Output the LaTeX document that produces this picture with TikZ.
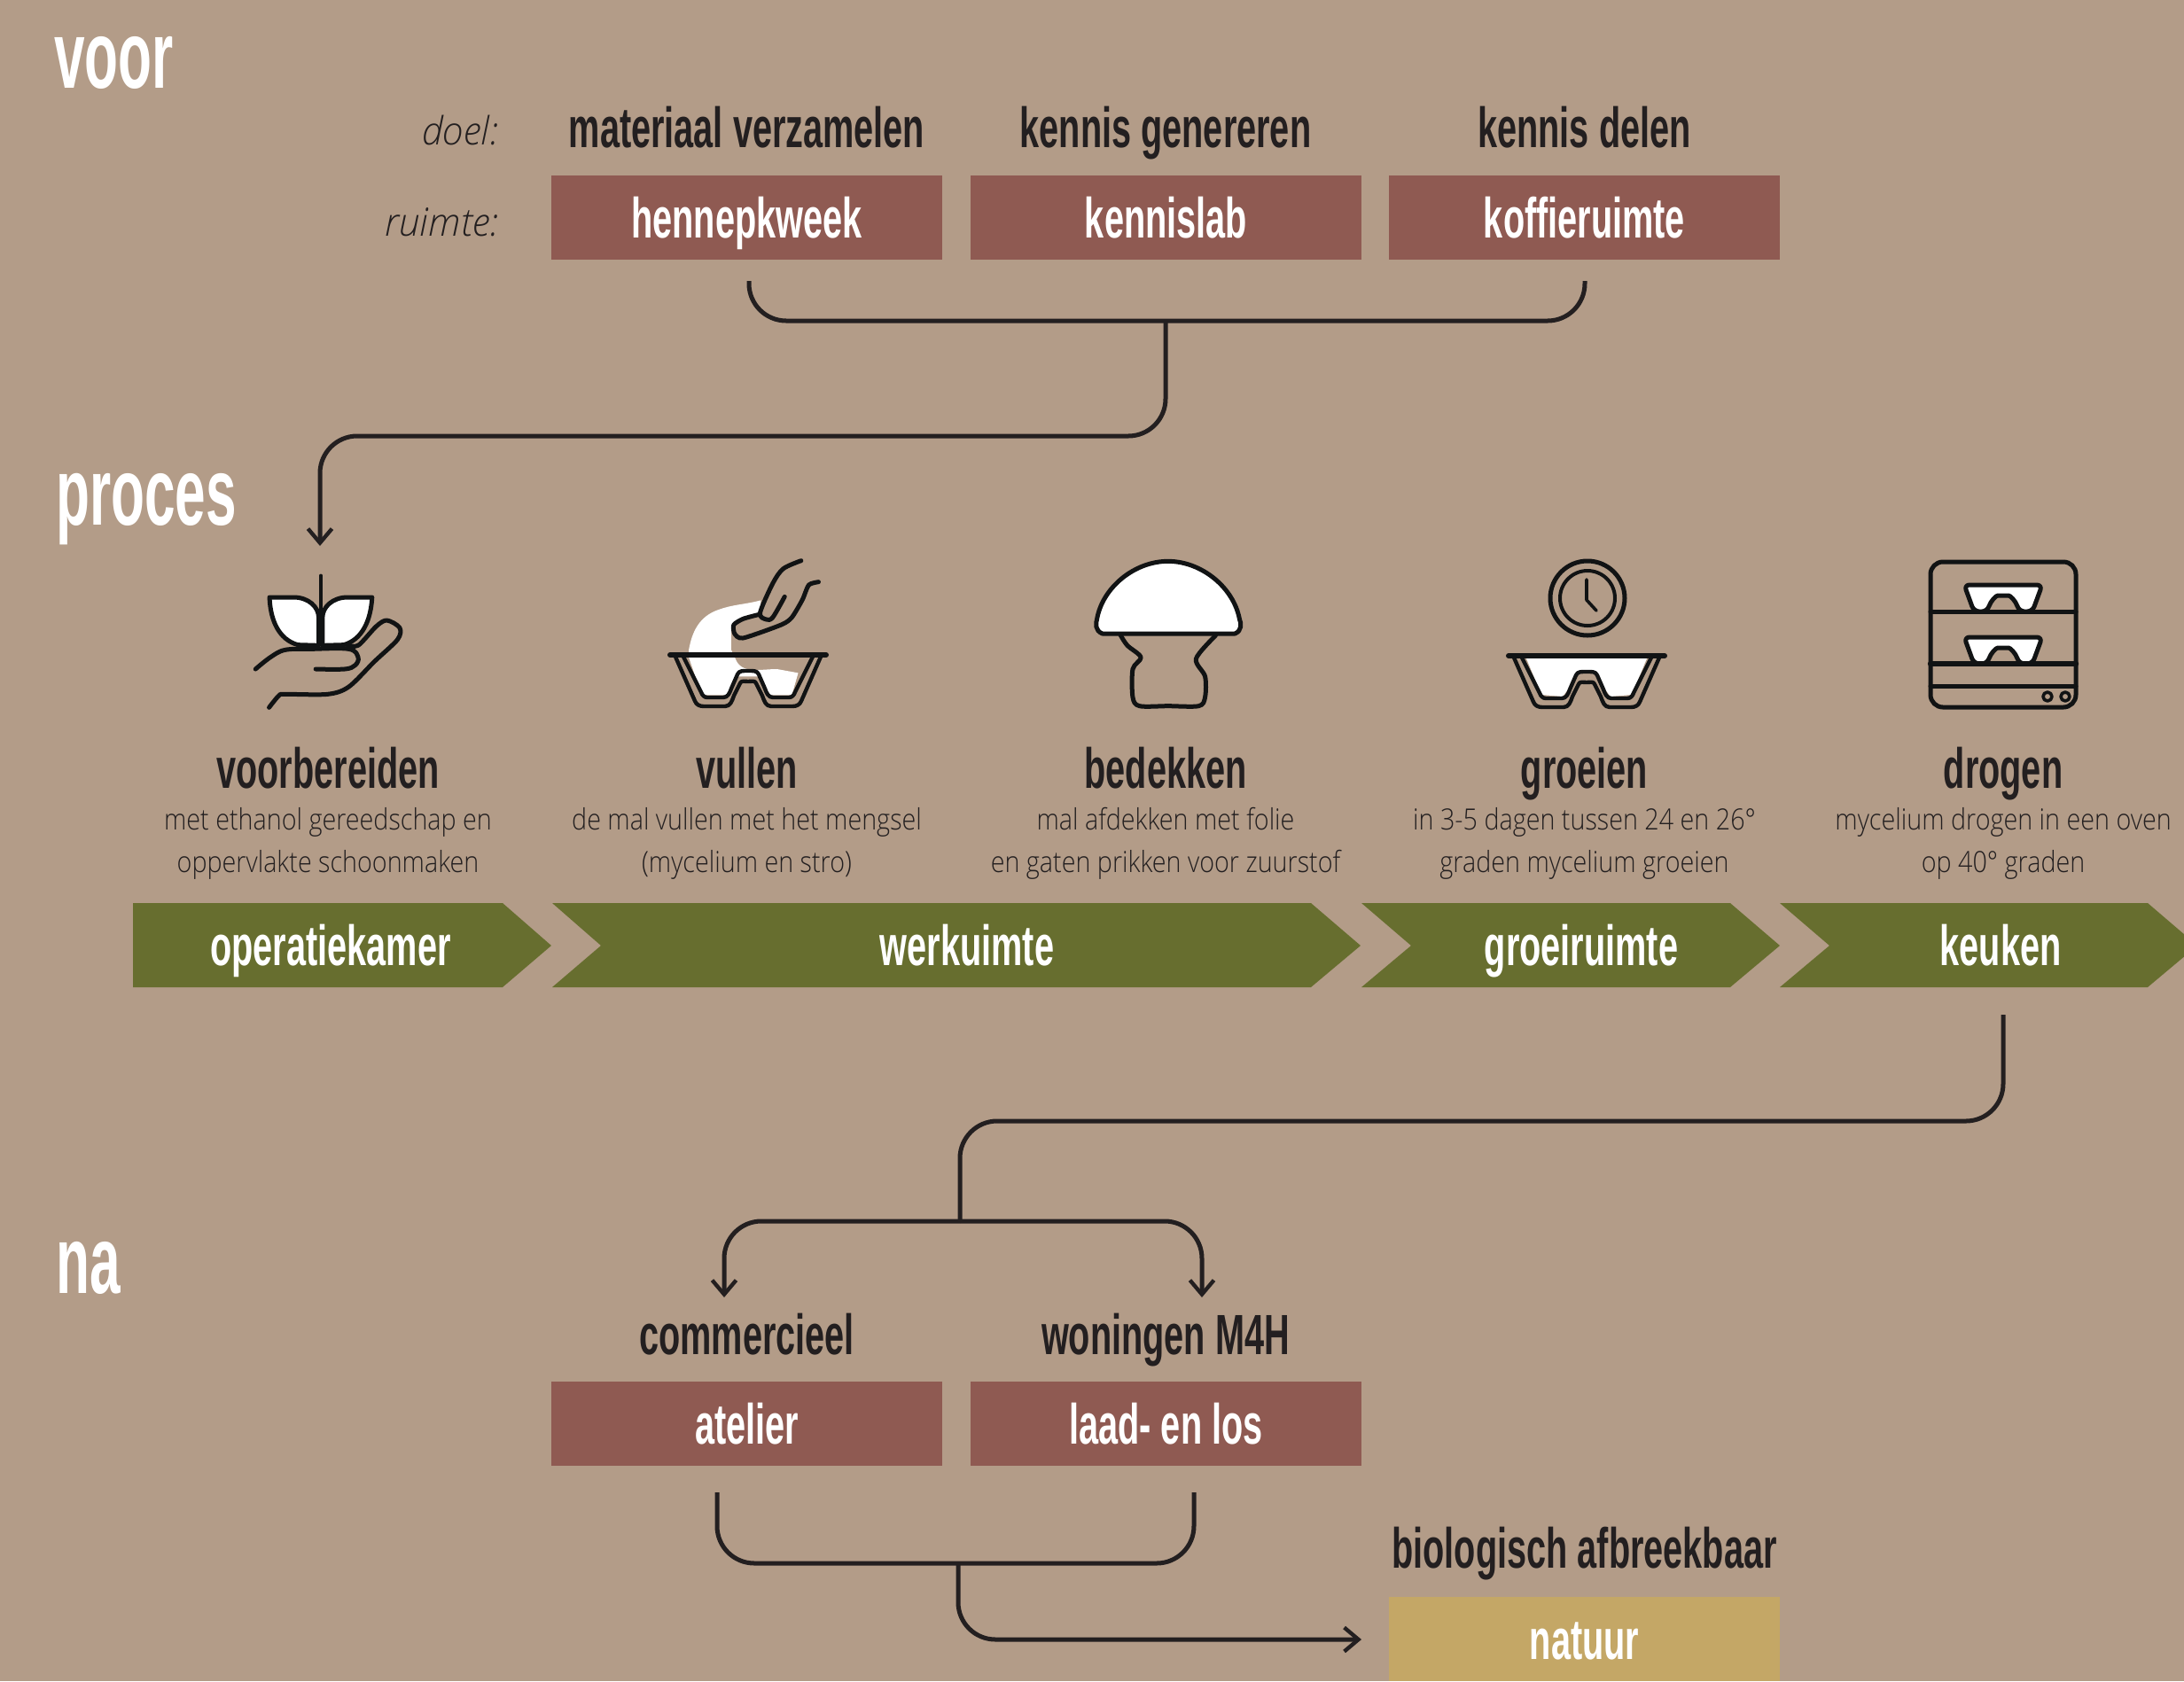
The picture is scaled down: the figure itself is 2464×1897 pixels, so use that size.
\documentclass[tikz,border=0pt]{standalone}
\usepackage{fontspec}
\usetikzlibrary{arrows.meta}
\setmainfont{Open Sans}
\newfontfamily\headf[FakeStretch=0.62]{Liberation Sans Bold}
\newfontfamily\bigf[FakeStretch=0.575]{Liberation Sans Bold}
\newfontfamily\bodyf[FakeStretch=0.87]{Open Sans Light}
\newfontfamily\bodyi[FakeStretch=0.97]{Open Sans Light Italic}
\definecolor{bgc}{HTML}{B39C88}
\definecolor{roomc}{HTML}{8F5A52}
\definecolor{greenc}{HTML}{676E2F}
\definecolor{goldc}{HTML}{C4A766}
\definecolor{inkc}{HTML}{231F20}
\definecolor{iconc}{HTML}{111314}
\tikzset{
  big/.style={anchor=base west,inner sep=0pt,text=white,font=\bigf\fontsize{54}{60}\selectfont},
  head/.style={anchor=base,inner sep=0pt,text=inkc,font=\headf\fontsize{32}{36}\selectfont},
  body/.style={anchor=base,inner sep=0pt,text=inkc,font=\bodyf\fontsize{16.5}{20}\selectfont},
  side/.style={anchor=base east,inner sep=0pt,text=inkc,font=\bodyi\fontsize{22}{26}\selectfont},
  roombox/.style={anchor=base,inner xsep=0pt,inner ysep=0pt,minimum width=220.5pt,text height=35pt,text depth=12.5pt,fill=roomc,text=white,font=\headf\fontsize{32}{36}\selectfont},
  chevtext/.style={anchor=base,inner sep=0pt,text=white,font=\headf\fontsize{32}{36}\selectfont},
  chev/.style={fill=greenc},
  conn/.style={draw=inkc,line width=2.5pt,rounded corners=21pt},
  connend/.style={conn,-{Straight Barb[length=8pt,width=13.5pt,line width=2.2pt]}},
  ico/.style={draw=iconc,line width=2.5pt,line cap=round,line join=round},
  bowlshape/.pic={
    \draw[ico,line width=2.2pt] (-82,2) -- (-60,52) to[out=-70,in=180] (-50,58) -- (-26,58) to[out=0,in=-110] (-16,46) -- (-9,32) to[out=70,in=180] (0,30) to[out=0,in=110] (9,32) -- (16,46) to[out=-70,in=180] (26,58) -- (50,58) to[out=0,in=-110] (60,52) -- (82,2);
    \draw[ico,line width=2.2pt] (-73,2) -- (-53,42) to[out=-70,in=180] (-46,48) -- (-28,48) to[out=0,in=-110] (-19,38) -- (-12,22) to[out=70,in=180] (0,18) to[out=0,in=110] (12,22) -- (19,38) to[out=-70,in=180] (28,48) -- (46,48) to[out=0,in=-110] (53,42) -- (73,2);
    \draw[ico,line width=3pt] (-88,0) -- (88,0);
  },
  bowlwhite/.pic={
    \fill[white] (-68,3) -- (-51,44) -- (-27,46) -- (-18,34) -- (-12,22) -- (0,18) -- (12,22) -- (18,34) -- (27,46) -- (51,44) -- (68,3) -- cycle;
  },
  traypic/.pic={
    \filldraw[ico,fill=white,rounded corners=3pt] (-44,0) -- (44,0) -- (33,30) -- (18,30) .. controls (14,18) and (8,12) .. (0,12) .. controls (-8,12) and (-14,18) .. (-18,30) -- (-33,30) -- cycle;
  }
}
\begin{document}
\begin{tikzpicture}[x=0.5pt,y=-0.5pt]
\useasboundingbox (0,0) rectangle (2464,1897);
\fill[bgc] (0,0) rectangle (2464,1897);
\clip (0,0) rectangle (2464,1897);

% section titles
\node[big] (tvoor) at (61,99) {voor};
\node[big] (tproces) at (63,592) {proces};
\node[big] (tna) at (63,1459) {na};

% voor
\node[side] (ldoel) at (563,163) {doel:};
\node[side] (lruimte) at (563,266) {ruimte:};
\node[head] (d1) at (842.5,166) {materiaal verzamelen};
\node[head] (d2) at (1315,166) {kennis genereren};
\node[head] (d3) at (1787.5,166) {kennis delen};
\node[roombox] (hennep) at (842.5,268) {hennepkweek};
\node[roombox] (lab) at (1315.5,268) {kennislab};
\node[roombox] (koffie) at (1787.5,268) {koffieruimte};

% icon 1
\begin{scope}[shift={(250,600)},x=0.23916pt,y=-0.16667pt]
  \filldraw[ico,fill=white] (229,385) -- (229,290) .. controls (229,255) and (205,222) .. (170,222) -- (113,222) .. controls (115,300) and (135,365) .. (180,383) -- cycle;
  \filldraw[ico,fill=white] (238,385) -- (238,290) .. controls (238,255) and (262,222) .. (297,222) -- (355,222) .. controls (352,300) and (332,365) .. (288,383) -- cycle;
  \draw[ico,line width=1.7pt] (234,148) -- (234,300);
  \draw[ico] plot[smooth,tension=.6] coordinates {(80,465) (115,425) (150,400) (210,397) (300,397) (322,425) (315,452) (290,465) (222,465)};
  \draw[ico] plot[smooth,tension=.5] coordinates {(112,595) (135,555) (150,550) (250,550) (300,525) (360,440) (415,365) (420,325) (390,300) (365,320) (322,385) (295,382)};
\end{scope}

% icon 2
\begin{scope}[shift={(250,600)},x=0.23916pt,y=-0.16667pt]
  \fill[white] (1272,232) to[out=195,in=20] (1170,265) to[out=200,in=80] (1102,400) -- (1102,425) -- (1130,545) -- (1140,553) -- (1190,553) -- (1215,490) -- (1265,490) -- (1295,553) -- (1345,553) -- (1360,478) -- (1310,465) to[out=180,in=-70] (1212,430) -- (1202,400) -- (1202,330) to[out=90,in=200] (1268,285) -- cycle;
  \draw[ico] plot[smooth,tension=.5] coordinates {(1367,98) (1325,125) (1300,175) (1270,275) (1285,297) (1300,290) (1328,220)};
  \draw[ico] plot[smooth,tension=.4] coordinates {(1408,170) (1385,180) (1370,230) (1345,290) (1320,315) (1230,360) (1210,345) (1208,315) (1230,295) (1268,280)};
\end{scope}
\pic at (844,739) {bowlshape};

% icon 3
\begin{scope}[shift={(1180,600)},x=0.2551pt,y=-0.16667pt]
  \filldraw[ico,fill=white] (125,345) .. controls (108,335) and (110,310) .. (113,295) .. controls (125,190) and (195,100) .. (270,100) .. controls (345,100) and (415,190) .. (428,295) .. controls (432,310) and (434,335) .. (418,345) -- cycle;
  \draw[ico] plot[smooth,tension=.5] coordinates {(165,350) (180,385) (210,425) (192,465) (192,560) (207,590) (270,590) (338,590) (352,560) (352,490) (332,430) (375,352)};
\end{scope}

% icon 4
\draw[ico] (1791,675) circle (42);
\draw[ico,line width=2pt] (1791,675) circle (31);
\draw[ico,line width=1.8pt] (1790,654) -- (1790,677) -- (1801,689);
\pic at (1790,740) {bowlwhite};
\pic at (1790,740) {bowlshape};

% icon 5
\draw[ico,rounded corners=7pt] (2178,634) rectangle (2342,798);
\pic at (2260,660) {traypic};
\pic at (2260,719) {traypic};
\draw[ico] (2178,690) -- (2342,690);
\draw[ico,line width=3.2pt] (2178,749) -- (2342,749);
\draw[ico] (2178,774) -- (2342,774);
\draw[ico,line width=1.8pt] (2310,786) circle (5);
\draw[ico,line width=1.8pt] (2330,786) circle (5);

% step titles
\node[head] (s1) at (370,889) {voorbereiden};
\node[head] (s2) at (842.5,889) {vullen};
\node[head] (s3) at (1315,889) {bedekken};
\node[head] (s4) at (1787.5,889) {groeien};
\node[head] (s5) at (2260,889) {drogen};
\node[body] (a1) at (370,936) {met ethanol gereedschap en};
\node[body] (b1) at (370,984) {oppervlakte schoonmaken};
\node[body] (a2) at (842.5,936) {de mal vullen met het mengsel};
\node[body] (b2) at (842.5,984) {(mycelium en stro)};
\node[body] (a3) at (1315,936) {mal afdekken met folie};
\node[body] (b3) at (1315,984) {en gaten prikken voor zuurstof};
\node[body] (a4) at (1787.5,936) {in 3-5 dagen tussen 24 en 26°};
\node[body] (b4) at (1787.5,984) {graden mycelium groeien};
\node[body] (a5) at (2260,936) {mycelium drogen in een oven};
\node[body] (b5) at (2260,984) {op 40° graden};

% chevrons
\fill[chev] (150,1019) -- (567,1019) -- (622,1067) -- (567,1114) -- (150,1114) -- cycle;
\fill[chev] (623,1019) -- (1479,1019) -- (1535,1067) -- (1479,1114) -- (623,1114) -- (678,1067) -- cycle;
\fill[chev] (1536,1019) -- (1952,1019) -- (2008,1067) -- (1952,1114) -- (1536,1114) -- (1592,1067) -- cycle;
\fill[chev] (2008,1019) -- (2423,1019) -- (2479,1067) -- (2423,1114) -- (2008,1114) -- (2064,1067) -- cycle;
\node[chevtext] (c1) at (373,1089) {operatiekamer};
\node[chevtext] (c2) at (1091,1089) {werkuimte};
\node[chevtext] (c3) at (1784,1089) {groeiruimte};
\node[chevtext] (c4) at (2257,1089) {keuken};

% na
\node[head] (n1) at (842.5,1528) {commercieel};
\node[head] (n2) at (1315,1528) {woningen M4H};
\node[roombox] (atelier) at (842.5,1629) {atelier};
\node[roombox] (laad) at (1315.5,1629) {laad- en los};
\node[head] (n3) at (1787.5,1769) {biologisch afbreekbaar};
\node[roombox,fill=goldc] (natuur) at (1787.5,1872) {natuur};

% connector points
\coordinate (p1) at (845,317);
\coordinate (p2) at (1788,317);
\coordinate (p3) at (1315,362);
\coordinate (p4) at (361,616);
\coordinate (p5) at (2260,1145);
\coordinate (p6) at (1083,1378);
\coordinate (p7) at (817,1464);
\coordinate (p8) at (1356,1464);
\coordinate (p9) at (809,1684);
\coordinate (p10) at (1347,1684);
\coordinate (p11) at (1081,1764);
\coordinate (p12) at (1536,1850);

\draw[conn] (p1) |- (p3) -| (p2);
\draw[connend] (p3) -- (1315,492) -- (361,492) -- (p4);
\draw[conn] (p5) -- (2260,1265) -- (1083,1265) -- (p6);
\draw[connend] (p6) -- (817,1378) -- (p7);
\draw[connend] (p6) -- (1356,1378) -- (p8);
\draw[conn] (p9) |- (p11) -| (p10);
\draw[connend] (p11) |- (p12);
\end{tikzpicture}
\end{document}
